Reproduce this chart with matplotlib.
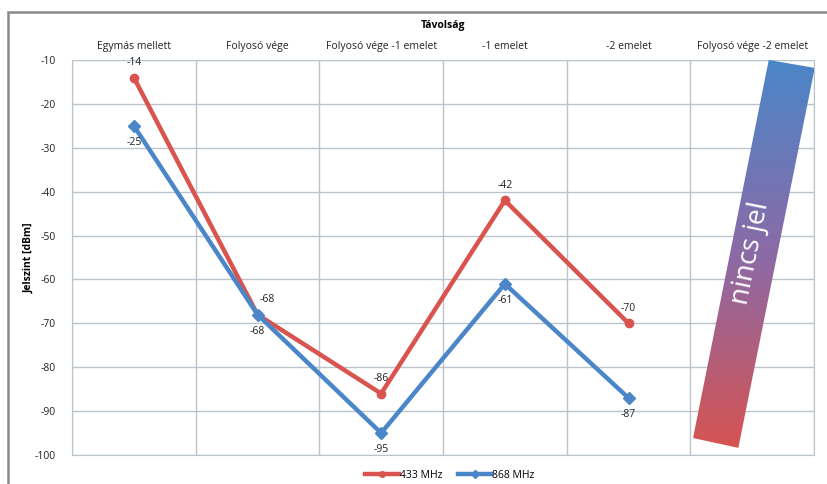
import numpy as np
import matplotlib
matplotlib.use("Agg")
import matplotlib.pyplot as plt
from matplotlib.patches import Polygon, Rectangle
from matplotlib.lines import Line2D
from matplotlib.colors import LinearSegmentedColormap

plt.rcParams['font.family'] = ['Open Sans', 'DejaVu Sans']
plt.rcParams['axes.unicode_minus'] = False

# measured signal levels per location (no signal at the last one)
locations = ["Egymás mellett", "Folyosó vége", "Folyosó vége -1 emelet",
             "-1 emelet", "-2 emelet", "Folyosó vége -2 emelet"]
level_433 = [-14, -68, -86, -42, -70]
level_868 = [-25, -68, -95, -61, -87]

red = "#d9534f"
blue = "#4a86c8"

fig = plt.figure(figsize=(8.27, 4.84), dpi=100)
ax = fig.add_axes([72/827, 29/484, 742/827, 395/484])

x = np.arange(len(locations))
x_sig = x[:len(level_433)]
ax.plot(x_sig, level_433, color=red, lw=3.2, marker="o", ms=6, zorder=4)
ax.plot(x_sig, level_868, color=blue, lw=3.2, marker="D", ms=6, zorder=5)

# value labels: 433 above, 868 below
for xi, v in zip(x_sig, level_433):
    dx = 7 if xi == 1 else 0
    ax.annotate(str(v), (xi, v), xytext=(dx, 7), textcoords="offset points",
                ha="center", va="bottom", fontsize=7.5, color="#222222", zorder=6)
for xi, v in zip(x_sig, level_868):
    ax.annotate(str(v), (xi, v), xytext=(0, -8), textcoords="offset points",
                ha="center", va="top", fontsize=7.5, color="#222222", zorder=6)

ax.set_xlim(-0.5, len(locations) - 0.5)
ax.set_ylim(-100, -10)
ax.set_yticks(np.arange(-100, -9, 10))
ax.xaxis.tick_top()
ax.set_xticks(x)
ax.set_xticklabels(locations, fontsize=7.5, color="#222222")
ax.set_xticks(np.arange(-0.5, len(locations), 1), minor=True)
ax.tick_params(axis="x", which="both", length=0, pad=6)
ax.tick_params(axis="y", length=0, pad=12, labelsize=7.5, labelcolor="#222222")
ax.grid(True, which="minor", axis="x", color="#b9c4cc", lw=1)
ax.grid(True, which="major", axis="y", color="#b9c4cc", lw=1)
for s in ax.spines.values():
    s.set_color("#b9c4cc")
ax.set_axisbelow(True)

ax.set_title("Távolság", fontsize=7.5, fontweight="bold", pad=23)
ax.set_ylabel("Jelszint [dBm]", fontsize=7.5, fontweight="bold", labelpad=0)

# "no signal" gradient band over the last location
band = [(0.939, 1.0), (1.001, 0.980), (0.898, 0.018), (0.837, 0.043)]
poly = Polygon(band, closed=True, transform=ax.transAxes, facecolor="none",
               edgecolor="none")
ax.add_patch(poly)
cmap = LinearSegmentedColormap.from_list("band", [red, "#8c6aa6", blue])
grad = np.linspace(0, 1, 256).reshape(-1, 1)
img = ax.imshow(grad, cmap=cmap, origin="lower", aspect="auto",
                extent=(0.83, 1.01, 0.0, 1.0), transform=ax.transAxes, zorder=3)
img.set_clip_path(poly)
img.set_clip_on(True)
ax.set_xlim(-0.5, len(locations) - 0.5)
ax.set_ylim(-100, -10)
ax.text(0.914, 0.51, "nincs jel", transform=ax.transAxes, rotation=78.5,
        ha="center", va="center", color="white", fontsize=20, zorder=6,
        rotation_mode="anchor")

handles = [Line2D([], [], color=red, lw=3.2, marker="o", ms=4),
           Line2D([], [], color=blue, lw=3.2, marker="D", ms=4)]
fig.legend(handles, ["433 MHz", "868 MHz"], loc="center", ncol=2,
           bbox_to_anchor=(450/827, 1 - 475/484), frameon=False, fontsize=7.5,
           handlelength=3.2, handletextpad=0.1, columnspacing=1.5)

# outer frame
fig.add_artist(Rectangle((8/827, -0.05), 1.0, 1 - 12/484 + 0.05,
                         transform=fig.transFigure, fill=False,
                         edgecolor="#8a8a8a", lw=1.8))

fig.savefig("out.png", dpi=100)
